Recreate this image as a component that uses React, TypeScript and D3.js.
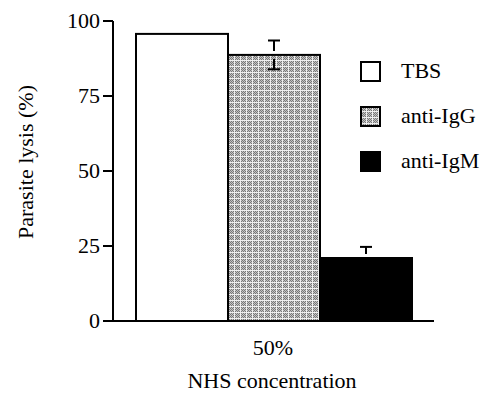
import React from 'react';
import * as d3 from 'd3';

const groups = ['TBS', 'anti-IgG', 'anti-IgM'];
const lysis = [95.7, 88.7, 21];
const errors = [0, 4.8, 3.7];
const yTicks = [0, 25, 50, 75, 100];
const category = '50%';

const fills = ['#ffffff', 'url(#halftone)', '#000000'];
const serif = { fontFamily: '"Liberation Serif"' };

const App = () => {
  const y = d3.scaleLinear().domain([0, 100]).range([321, 21]);
  const x = d3.scaleBand().domain(groups).range([136, 412]).paddingInner(0).paddingOuter(0);

  // checker cells of the halftone tile
  const cells: [number, number][] = [];
  for (let i = 1; i < 6; i++) {
    for (let j = 1; j < 6; j++) {
      if ((i + j) % 2 === 0) cells.push([i, j]);
    }
  }

  return (
    <svg width={482} height={393} style={{ position: 'absolute', left: 0, top: 0, display: 'block' }}>
      <defs>
        <pattern id="halftone" patternUnits="userSpaceOnUse" width={6} height={6}>
          <rect width={6} height={6} fill="#c4c4c4" />
          {cells.map(([i, j]) => (
            <rect key={`${i}-${j}`} x={i} y={j} width={1} height={1} fill="#777" />
          ))}
          <rect width={6} height={1} fill="#eee" />
          <rect width={1} height={6} fill="#eee" />
        </pattern>
      </defs>

      {/* bars */}
      {groups.map((g, i) => (
        <rect key={g} x={x(g)} y={y(lysis[i])} width={x.bandwidth()} height={y(0) - y(lysis[i])}
          fill={fills[i]} stroke="#000" strokeWidth={2} />
      ))}

      {/* error bars */}
      {groups.map((g, i) => {
        if (!errors[i]) return null;
        const cx = x(g)! + x.bandwidth() / 2;
        const hi = y(lysis[i] + errors[i]);
        const lo = y(lysis[i] - errors[i]);
        const top = y(lysis[i]);
        return (
          <g key={g} stroke="#000" strokeWidth={2}>
            <line x1={cx} x2={cx} y1={hi} y2={top - 4} />
            <line x1={cx - 6} x2={cx + 6} y1={hi} y2={hi} />
            {i === 1 && <line x1={cx} x2={cx} y1={top + 4} y2={lo} />}
            {i === 1 && <line x1={cx - 6} x2={cx + 6} y1={lo} y2={lo} />}
          </g>
        );
      })}

      {/* y axis */}
      <line x1={113} x2={113} y1={y(100)} y2={y(0)} stroke="#000" strokeWidth={2} />
      {yTicks.map(t => (
        <g key={t} transform={`translate(0,${y(t)})`}>
          <line x1={103} x2={113} stroke="#000" strokeWidth={2} />
          <text x={100} dy="0.33em" textAnchor="end" fontSize={22} style={serif}>{t}</text>
        </g>
      ))}

      {/* x axis */}
      <line x1={103} x2={434} y1={y(0)} y2={y(0)} stroke="#000" strokeWidth={2} />
      <text x={273} y={355} textAnchor="middle" fontSize={22} style={serif}>{category}</text>
      <text x={272} y={388} textAnchor="middle" fontSize={22} style={serif}>NHS concentration</text>
      <text transform="translate(33,162) rotate(-90)" textAnchor="middle" fontSize={22} style={serif}>Parasite lysis (%)</text>

      {/* legend */}
      {groups.map((g, i) => (
        <g key={g} transform={`translate(0,${i * 45})`}>
          <rect x={361} y={62} width={19} height={19} fill={fills[i]} stroke="#000" strokeWidth={2} />
          <text x={401} y={78} fontSize={22} style={serif}>{g}</text>
        </g>
      ))}
    </svg>
  );
};

export default App;
